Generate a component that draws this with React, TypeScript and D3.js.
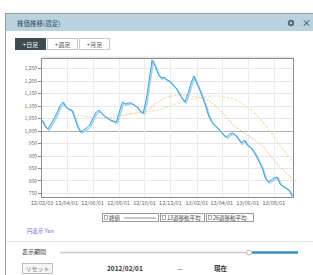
import * as d3 from 'd3'

// weekly close prices (yen), first week 2012/02/03
const startDate = new Date(2012, 1, 3)
const closeValues = [
  1042, 1018, 1006, 1026, 1046, 1070, 1098, 1114, 1094, 1086, 1082, 1050, 1014, 994, 1002,
  1010, 1022, 1046, 1070, 1082, 1070, 1058, 1050, 1042, 1038, 1034, 1074, 1114, 1106, 1110,
  1110, 1102, 1094, 1078, 1070, 1122, 1202, 1282, 1258, 1226, 1210, 1214, 1202, 1198, 1182,
  1170, 1150, 1130, 1114, 1146, 1186, 1218, 1190, 1162, 1130, 1098, 1058, 1034, 1022, 1010,
  998, 982, 974, 986, 990, 982, 966, 950, 962, 942, 934, 918, 898, 874, 850,
  810, 794, 802, 810, 814, 786, 778, 770, 762, 738
]

// moving averages, every 2nd week
const ma13Start = 12
const ma13Values = [
  1062, 1058, 1054, 1054, 1050, 1050, 1054, 1058, 1062, 1066, 1070, 1074, 1086, 1106, 1122,
  1134, 1138, 1142, 1142, 1138, 1134, 1130, 1118, 1102, 1078, 1054, 1026, 1006, 990, 974,
  958, 938, 910, 882, 854, 830, 810, 794
]
const ma26Start = 25
const ma26Values = [
  1058, 1062, 1066, 1070, 1070, 1074, 1078, 1082, 1090, 1098, 1106, 1114, 1122, 1126, 1130,
  1134, 1138, 1138, 1134, 1130, 1122, 1110, 1094, 1074, 1050, 1022, 990, 958, 926, 894, 866
]

const yTicks = [1250, 1200, 1150, 1100, 1050, 1000, 950, 900, 850, 800, 750]
const xTicks = [
  new Date(2012, 3, 1), new Date(2012, 5, 1), new Date(2012, 7, 1), new Date(2012, 9, 1),
  new Date(2012, 11, 1), new Date(2013, 1, 1), new Date(2013, 3, 1), new Date(2013, 5, 1),
  new Date(2013, 7, 1)
]
const legendItems = ['終値', '13週移動平均', '26週移動平均']
const periodButtons = ['日足', '週足', '月足']

const FONT = '"Noto Sans CJK JP", "Noto Sans", sans-serif'

const weekDate = (i: number) => d3.timeWeek.offset(startDate, i)

export default function App() {
  const left = 41, right = 293, top = 58, bottom = 197
  const x = d3.scaleTime()
    .domain([startDate, weekDate(closeValues.length - 1)])
    .range([left + 1, right - 1])
  const y = d3.scaleLinear().domain([734, 1290]).range([bottom, top])

  const closePts: [number, number][] = closeValues.map((v, i) => [x(weekDate(i)), y(v)])
  const ma13Pts: [number, number][] = ma13Values.map((v, i) => [x(weekDate(ma13Start + i * 2)), y(v)])
  const ma26Pts: [number, number][] = ma26Values.map((v, i) => [x(weekDate(ma26Start + i * 2)), y(v)])

  const line = d3.line()
  const smooth = d3.line().curve(d3.curveMonotoneX)
  const fmtDate = d3.timeFormat('%y/%m/%d')
  const fmtNum = d3.format(',')

  return (
    <svg width={313} height={275} style={{ position: 'absolute', left: 0, top: 0, fontFamily: FONT }}>
      <rect x={0} y={0} width={313} height={275} fill="#fff" />
      {/* panel */}
      <rect x={5.5} y={13.5} width={320} height={270} fill="#fff" stroke="#9a9a9a" />
      <rect x={6} y={14} width={310} height={17} fill="#b8d3df" />
      <text x={17} y={25.5} fontSize={6.5} fill="#33475a">株価推移(週足)</text>
      <circle cx={291} cy={23} r={3.2} fill="#5b6b74" />
      <circle cx={291} cy={23} r={1.2} fill="#b8d3df" />
      <text x={302} y={26} fontSize={9} fill="#5b6b74" fontWeight="bold">×</text>

      {/* period buttons */}
      {periodButtons.map((b, i) => {
        const bx = 15.5 + i * 32
        const active = i === 0
        return (
          <g key={b}>
            <rect x={bx} y={38.5} width={30} height={11} fill={active ? '#3e4b51' : '#fff'}
              stroke={active ? '#3e4b51' : '#c8c8c8'} />
            <text x={bx + 15} y={46.5} fontSize={6} textAnchor="middle" fill={active ? '#fff' : '#555'}>
              {'+' + b}
            </text>
          </g>
        )
      })}

      {/* plot area */}
      <rect x={left + 0.5} y={top - 1.5} width={right - left} height={2} fill="#e4e4e4" />
      {yTicks.map(t => (
        <g key={t}>
          <line x1={left} x2={right} y1={Math.round(y(t)) + 0.5} y2={Math.round(y(t)) + 0.5}
            stroke={t === 1000 ? '#b0b0b0' : '#e6e6e6'} />
          <line x1={left - 3} x2={left} y1={Math.round(y(t)) + 0.5} y2={Math.round(y(t)) + 0.5} stroke="#888" />
          <text x={left - 4} y={y(t) + 2} fontSize={5} textAnchor="end" fill="#666">{fmtNum(t)}</text>
        </g>
      ))}
      {xTicks.map(t => (
        <g key={+t}>
          <line x1={Math.round(x(t)) + 0.5} x2={Math.round(x(t)) + 0.5} y1={top} y2={bottom} stroke="#ececec" />
          <text x={x(t)} y={205} fontSize={5.5} textAnchor="middle" fill="#666">{fmtDate(t)}</text>
        </g>
      ))}
      <text x={left + 1} y={205} fontSize={5.5} textAnchor="middle" fill="#666">{fmtDate(startDate)}</text>

      <path d={smooth(ma26Pts) || ''} fill="none" stroke="#e3ebb0" strokeWidth={1.2} strokeDasharray="3,1.5" />
      <path d={smooth(ma13Pts) || ''} fill="none" stroke="#f6c49c" strokeWidth={1.1} strokeDasharray="1.5,1.5" />
      <path d={line(closePts) || ''} fill="none" stroke="#9ad8f2" strokeWidth={1.6}
        transform="translate(1.2,1.2)" strokeLinejoin="round" />
      <path d={line(closePts) || ''} fill="none" stroke="#4a98d6" strokeWidth={1} strokeLinejoin="round" />

      <rect x={left + 0.5} y={top + 0.5} width={right - left} height={bottom - top} fill="none" stroke="#8c8c8c" />

      {/* legend */}
      {legendItems.map((l, i) => {
        const lx = [102, 160, 206][i]
        const w = [56, 44, 47][i]
        return (
          <g key={l}>
            <rect x={lx + 0.5} y={213.5} width={w} height={8} fill="#fff" stroke="#9a9a9a" />
            <rect x={lx + 2.5} y={215.5} width={3} height={4} fill="#fff" stroke="#777" strokeWidth={0.6} />
            <text x={lx + 7} y={219.8} fontSize={5.5} fill="#444">{l}</text>
            {i === 0 && <line x1={lx + 22} x2={lx + 54} y1={218} y2={218} stroke="#666" strokeWidth={0.7} />}
          </g>
        )
      })}
      <text x={27} y={233} fontSize={5.5} fill="#7367d6">円表示 Yen</text>

      {/* period slider */}
      <line x1={6} x2={313} y1={241.5} y2={241.5} stroke="#e2e2e2" />
      <text x={22} y={254} fontSize={6} fill="#333">表示期間</text>
      <line x1={60} x2={298} y1={252.5} y2={252.5} stroke="#c9c9c9" strokeWidth={1.5} />
      <line x1={252} x2={298} y1={252.5} y2={252.5} stroke="#3a8fc8" strokeWidth={2.5} />
      <circle cx={249} cy={252.5} r={2.5} fill="#fff" stroke="#b5b5b5" />
      <rect x={22.5} y={263.5} width={30} height={10} fill="#f6f6f6" stroke="#bdbdbd" />
      <text x={37.5} y={271} fontSize={6} textAnchor="middle" fill="#777">リセット</text>
      <text x={107} y={271} fontSize={6.5} fill="#333" fontWeight="bold">2012/02/01</text>
      <text x={177} y={271} fontSize={6.5} fill="#333">—</text>
      <text x={214} y={271} fontSize={6.5} fill="#333" fontWeight="bold">現在</text>
    </svg>
  )
}
